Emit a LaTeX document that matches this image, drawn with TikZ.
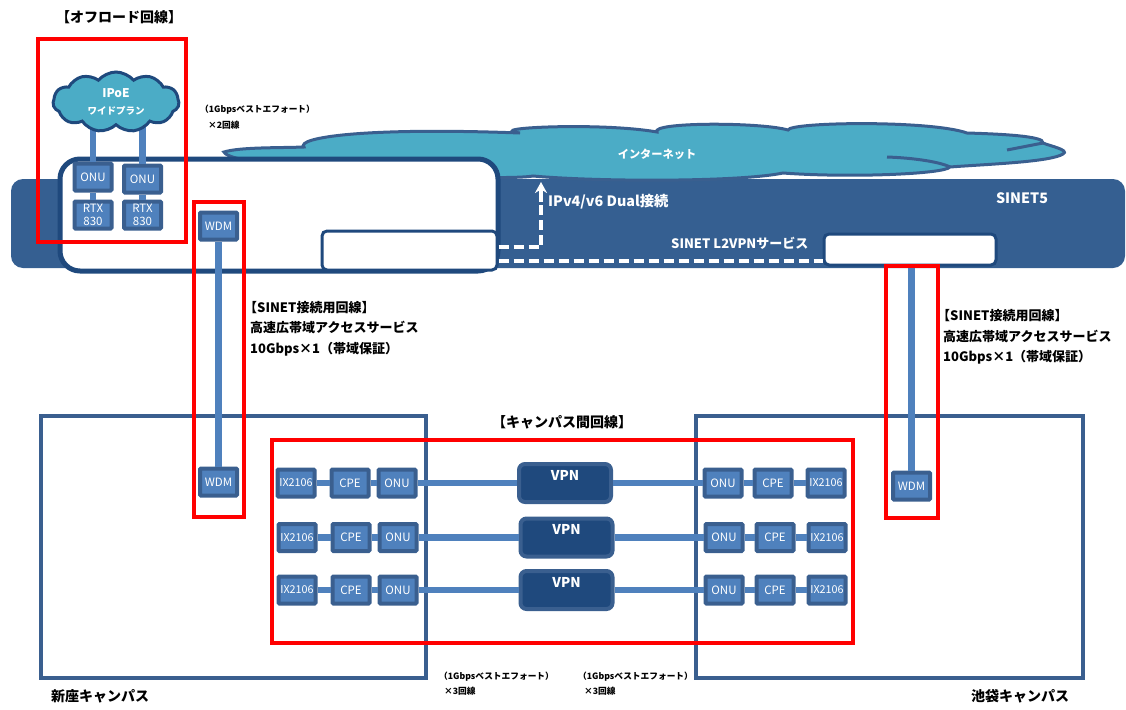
\documentclass[tikz,border=0pt]{standalone}
\usepackage{fontspec}
\setmainfont{Noto Sans CJK JP}
\usetikzlibrary{shapes.symbols, arrows.meta, positioning, fit}
\definecolor{sinetblue}{HTML}{355F91}
\definecolor{darkblue}{HTML}{1F497D}
\definecolor{devblue}{HTML}{4F81BD}
\definecolor{devedge}{HTML}{3A5F8F}
\definecolor{cloudblue}{HTML}{4BACC6}
\definecolor{redline}{HTML}{FF0000}
\begin{document}
\begin{tikzpicture}[x=1pt, y=-1pt,
    device/.style={rectangle, draw=devedge, fill=devblue, line width=4pt, rounded corners=1pt, minimum width=37pt, minimum height=27pt, inner sep=0pt, text=white, font=\fontsize{11.5}{13.5}\selectfont, align=center},
    router/.style={device, font=\fontsize{10.8}{12}\selectfont},
    vpnbox/.style={rectangle, draw=devedge, fill=darkblue, line width=4pt, rounded corners=6pt, minimum width=92pt, minimum height=38pt, inner sep=0pt, text depth=16pt, text=white, font=\fontsize{13.5}{15}\selectfont\bfseries},
    area/.style={rectangle, inner sep=0pt},
    redbox/.style={area, draw=redline, line width=4pt},
    campus/.style={area, draw=devedge, line width=4pt},
    whitebox/.style={area, draw=darkblue, fill=white, rounded corners=5pt, line width=3pt},
    link/.style={draw=devblue, line width=6.5pt},
    dashlink/.style={draw=white, line width=3.5pt, dash pattern=on 10pt off 5pt},
    note/.style={anchor=west, inner sep=0pt, align=left, font=\fontsize{13}{20.3}\selectfont\bfseries},
    smallnote/.style={anchor=west, inner sep=0pt, align=left, font=\fontsize{8.7}{14}\selectfont\bfseries},
    whitenote/.style={inner sep=0pt, text=white, font=\fontsize{14.3}{16}\selectfont\bfseries}]
    \useasboundingbox (0,0) rectangle (1126,709);
    \node[area, fill=sinetblue, rounded corners=12pt, fit={(11,179) (1125,268)}] (sinet) {};
    \draw[draw=devedge, fill=cloudblue, line width=3pt] (224,152) .. controls (240,147) and (280,148) .. (304,147) .. controls (296,138) and (360,127) .. (520,133) .. controls (480,128) and (600,122) .. (657,132) .. controls (650,122) and (760,122) .. (788,130) .. controls (790,122) and (930,120) .. (967,133) .. controls (1000,134) and (1045,136) .. (1043,143) .. controls (1050,146) and (1070,150) .. (1063,154) .. controls (1050,162) and (990,164) .. (950,167) .. controls (945,174) and (850,178) .. (783,173) .. controls (740,182) and (600,182) .. (533,176) .. controls (500,182) and (230,170) .. cycle;
    \draw[draw=devedge, line width=3pt] (1043,143) -- (1007,150);
    \draw[draw=devedge, line width=3pt] (887,157) .. controls (915,158) and (940,162) .. (950,167);
    \node[whitenote, font=\fontsize{11.2}{15}\selectfont\bfseries] (internet) at (657,154) {インターネット};
    \node[area, draw=darkblue, fill=white, rounded corners=20pt, line width=5pt, fit={(60,159) (498,271)}] (campusnet) {};
    \node[whitebox, fit={(322,231) (497,270)}] (leftsw) {};
    \node[whitebox, fit={(824,234) (996,265)}] (rightsw) {};
    \coordinate (ipv) at (541,182);
    \draw[dashlink] ([yshift=3.5pt]leftsw.east) -| ([yshift=-14pt]ipv);
    \draw[draw=white, line width=3.5pt, -{Stealth[length=11pt, width=12pt]}] ([yshift=-20pt]ipv) -- (ipv);
    \draw[dashlink] ([yshift=-10.5pt]leftsw.east) -- ([yshift=-10.5pt]leftsw.east -| rightsw.west);
    \node[whitenote, anchor=west] (dual) at (548,202) {IPv4/v6 Dual接続};
    \node[whitenote] (sinetname) at (1022,198) {SINET5};
    \node[whitenote, anchor=west, font=\fontsize{13}{14}\selectfont\bfseries] (l2vpn) at (671,243) {SINET L2VPNサービス};
    \node[campus, fit={(41,416) (426,678)}] (niiza) {};
    \node[campus, fit={(696,416) (1083,678)}] (ikebukuro) {};
    \node[device] (onua) at (93,177) {ONU};
    \node[device] (onub) at (142.5,179) {ONU};
    \node[device] (rtxa) at (93,215) {RTX\\830};
    \node[device] (rtxb) at (142.5,215) {RTX\\830};
    \coordinate (ipoea) at (93,125);
    \coordinate (ipoeb) at (142.5,125);
    \draw[link] (ipoea) -- (onua);
    \draw[link] (ipoeb) -- (onub);
    \draw[link] (onua) -- (rtxa);
    \draw[link] (onub) -- (rtxb);
    \node[cloud, cloud puffs=11, cloud puff arc=100, aspect=2.2, draw=darkblue, fill=cloudblue, line width=3pt, minimum width=126pt, minimum height=60pt, inner sep=0pt, text=white, align=center, font=\fontsize{9.5}{17}\selectfont\bfseries] (ipoe) at (116,102) {{\fontsize{12}{17}\selectfont IPoE}\\ワイドプラン};
    \node[device] (wdmtop) at (218.5,226) {WDM};
    \node[device] (wdmleft) at (218.5,482) {WDM};
    \node[device] (wdmright) at (911.5,486) {WDM};
    \draw[link] (wdmtop) -- (wdmleft);
    \draw[link] (wdmright |- rightsw.south) -- (wdmright);
    \node[router] (ixa) at (296,483) {IX2106};
    \node[device] (cpea) at (350,483) {CPE};
    \node[device] (onuc) at (397,483) {ONU};
    \node[vpnbox] (vpna) at (565,483) {VPN};
    \node[device] (onud) at (723,483) {ONU};
    \node[device] (cpeb) at (773,483) {CPE};
    \node[router] (ixb) at (826,483) {IX2106};
    \node[router] (ixc) at (297,537.5) {IX2106};
    \node[device] (cpec) at (351,537.5) {CPE};
    \node[device] (onue) at (398,537.5) {ONU};
    \node[vpnbox] (vpnb) at (566.5,537.5) {VPN};
    \node[device] (onuf) at (724,537.5) {ONU};
    \node[device] (cped) at (775,537.5) {CPE};
    \node[router] (ixd) at (827,537.5) {IX2106};
    \node[router] (ixe) at (297,590) {IX2106};
    \node[device] (cpee) at (351,590) {CPE};
    \node[device] (onug) at (398,590) {ONU};
    \node[vpnbox] (vpnc) at (566.5,590) {VPN};
    \node[device] (onuh) at (724,590) {ONU};
    \node[device] (cpef) at (775,590) {CPE};
    \node[router] (ixf) at (827,590) {IX2106};
    \draw[link] (ixa) -- (cpea) -- (onuc) -- (vpna) -- (onud) -- (cpeb) -- (ixb);
    \draw[link] (ixc) -- (cpec) -- (onue) -- (vpnb) -- (onuf) -- (cped) -- (ixd);
    \draw[link] (ixe) -- (cpee) -- (onug) -- (vpnc) -- (onuh) -- (cpef) -- (ixf);
    \node[redbox, fit={(38,39) (186,242)}] (offload) {};
    \node[redbox, fit={(194,202) (244,517)}] (sinetleft) {};
    \node[redbox, fit={(886,266) (938,518)}] (sinetright) {};
    \node[redbox, fit={(272,440) (853,643)}] (intercampus) {};
    \node[note, font=\fontsize{14}{20}\selectfont\bfseries] (offloadlabel) at (56,17) {【オフロード回線】};
    \node[smallnote] (besta) at (200,110) {（1Gbpsベストエフォート）};
    \node[smallnote] (besta2) at (208,125) {×2回線};
    \node[note] (linkleft) at (250,328.5) {\hspace*{-6pt}【SINET接続用回線】\\高速広帯域アクセスサービス\\10Gbps×1（帯域保証）};
    \node[note] (linkright) at (943,337) {\hspace*{-6pt}【SINET接続用回線】\\高速広帯域アクセスサービス\\10Gbps×1（帯域保証）};
    \node[note, anchor=center, font=\fontsize{14}{20}\selectfont\bfseries] (campuslabel) at (562,422) {【キャンパス間回線】};
    \node[smallnote] (bestb) at (439,677) {（1Gbpsベストエフォート）};
    \node[smallnote] (bestb2) at (444,691) {×3回線};
    \node[smallnote] (bestc) at (578,677) {（1Gbpsベストエフォート）};
    \node[smallnote] (bestc2) at (584,691) {×3回線};
    \node[note, font=\fontsize{14}{20}\selectfont\bfseries] (niizalabel) at (51,696) {新座キャンパス};
    \node[note, font=\fontsize{14}{20}\selectfont\bfseries] (ikebukurolabel) at (971,696) {池袋キャンパス};
\end{tikzpicture}
\end{document}
